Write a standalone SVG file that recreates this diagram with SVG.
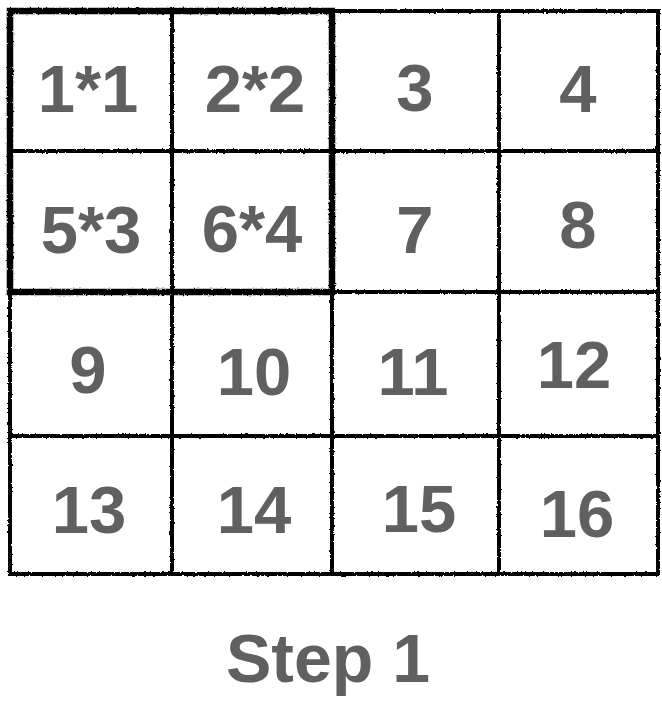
<svg xmlns="http://www.w3.org/2000/svg" width="662" height="702" viewBox="0 0 662 702">
  <defs>
    <filter id="rough" filterUnits="userSpaceOnUse" x="-20" y="-20" width="702" height="742">
      <feTurbulence type="fractalNoise" baseFrequency="0.45" numOctaves="2" seed="3" result="n"/>
      <feDisplacementMap in="SourceGraphic" in2="n" scale="2.6" xChannelSelector="R" yChannelSelector="G"/>
    </filter>
  </defs>
  <style>
    .cell { fill: none; stroke: #000; stroke-width: 4; filter: url(#rough); }
    .block { fill: none; stroke: #000; stroke-width: 6.5; filter: url(#rough); }
    .lbl { font-family: "Liberation Sans", Arial, Helvetica, sans-serif; font-weight: bold; font-size: 67px; fill: #606060; text-anchor: middle; }
    .title { font-family: "Liberation Sans", Arial, Helvetica, sans-serif; font-weight: bold; font-size: 68px; fill: #606060; text-anchor: middle; }
  </style>
  <rect width="662" height="702" fill="#fff"/>

  <g id="cell-1"><rect class="cell" x="10" y="11" width="162" height="140"/><text class="lbl" x="88" y="112">1*1</text></g>
  <g id="cell-2"><rect class="cell" x="172" y="11" width="160" height="140"/><text class="lbl" x="255" y="112">2*2</text></g>
  <g id="cell-3"><rect class="cell" x="332" y="11" width="167" height="140"/><text class="lbl" x="415" y="111">3</text></g>
  <g id="cell-4"><rect class="cell" x="499" y="11" width="159" height="140"/><text class="lbl" x="578" y="112">4</text></g>

  <g id="cell-5"><rect class="cell" x="10" y="151" width="162" height="141"/><text class="lbl" x="91" y="253">5*3</text></g>
  <g id="cell-6"><rect class="cell" x="172" y="151" width="160" height="141"/><text class="lbl" x="252" y="252">6*4</text></g>
  <g id="cell-7"><rect class="cell" x="332" y="151" width="167" height="141"/><text class="lbl" x="415" y="253">7</text></g>
  <g id="cell-8"><rect class="cell" x="499" y="151" width="159" height="141"/><text class="lbl" x="578" y="248">8</text></g>

  <g id="cell-9"><rect class="cell" x="10" y="292" width="162" height="144"/><text class="lbl" x="88" y="393">9</text></g>
  <g id="cell-10"><rect class="cell" x="172" y="292" width="160" height="144"/><text class="lbl" x="254" y="395">10</text></g>
  <g id="cell-11"><rect class="cell" x="332" y="292" width="167" height="144"/><text class="lbl" x="413" y="395">11</text></g>
  <g id="cell-12"><rect class="cell" x="499" y="292" width="159" height="144"/><text class="lbl" x="574" y="388">12</text></g>

  <g id="cell-13"><rect class="cell" x="10" y="436" width="162" height="138"/><text class="lbl" x="89" y="533">13</text></g>
  <g id="cell-14"><rect class="cell" x="172" y="436" width="160" height="138"/><text class="lbl" x="254" y="533">14</text></g>
  <g id="cell-15"><rect class="cell" x="332" y="436" width="167" height="138"/><text class="lbl" x="419" y="532">15</text></g>
  <g id="cell-16"><rect class="cell" x="499" y="436" width="159" height="138"/><text class="lbl" x="577" y="537">16</text></g>

  <g id="block"><rect class="block" x="10" y="11" width="322" height="281"/></g>

  <g id="connectors"></g>

  <g id="caption"><text class="title" x="328" y="682">Step 1</text></g>
</svg>
